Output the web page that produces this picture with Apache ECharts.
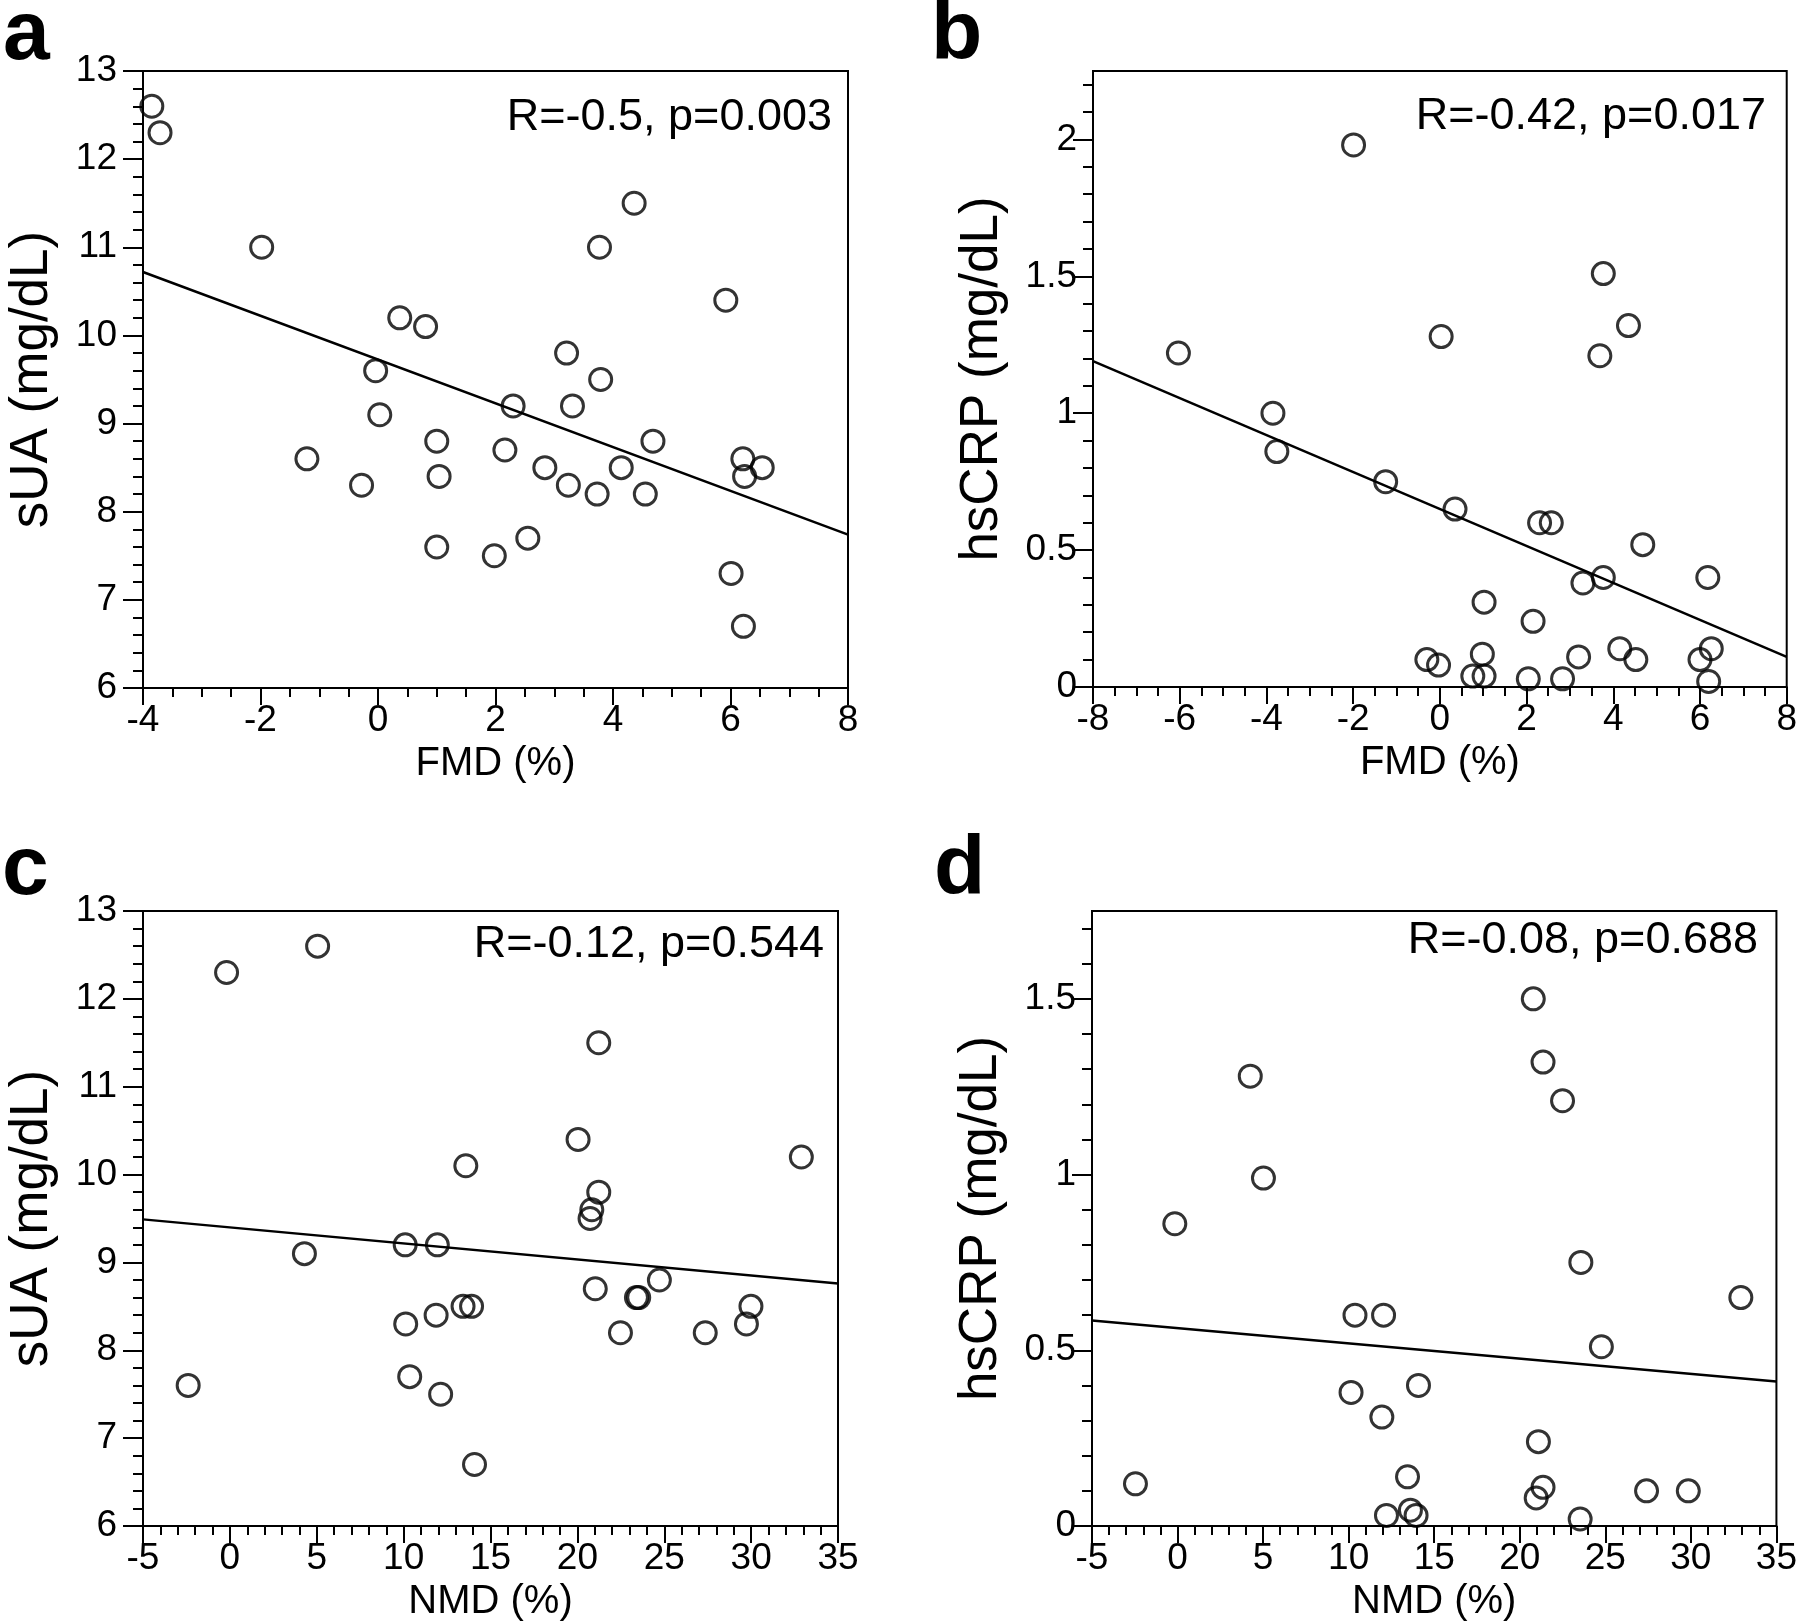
<!DOCTYPE html>
<html><head><meta charset="utf-8">
<script src="https://cdn.jsdelivr.net/npm/echarts@6/dist/echarts.min.js"></script>
<style>html,body{margin:0;padding:0;background:#fff}#c{width:1800px;height:1623px}</style>
</head><body><div id="c"></div>
<script>
// ---------- data ----------
// Panel a: FMD (%) vs sUA (mg/dL)
const aFMD = [-3.85, -3.71, -1.98, 4.36, 3.77, 5.92, 0.37, 0.81, 3.21, -0.04, 3.79, 2.30, 3.31, 0.03, 1.00, 4.68, 2.16, -1.21, 6.21, 2.84, 4.14, 6.54, 1.04, 6.24, -0.28, 3.24, 3.73, 4.55, 2.55, 1.00, 1.98, 6.01, 6.22];
const aSUA = [12.6, 12.3, 11.0, 11.5, 11.0, 10.4, 10.2, 10.1, 9.8, 9.6, 9.5, 9.2, 9.2, 9.1, 8.8, 8.8, 8.7, 8.6, 8.6, 8.5, 8.5, 8.5, 8.4, 8.4, 8.3, 8.3, 8.2, 8.2, 7.7, 7.6, 7.5, 7.3, 6.7];
const aLineX = [-4, 8];
const aLineY = [10.72, 7.74];

// Panel b: FMD (%) vs hsCRP (mg/dL)
const bFMD = [-1.99, 3.77, 4.35, 0.03, -6.03, 3.69, -3.85, -3.76, -1.25, 0.35, 2.30, 2.57, 4.68, 6.18, 3.77, 3.30, 1.02, 2.15, 4.15, 6.26, 0.98, 3.20, -0.30, -0.03, 4.52, 6.00, 0.76, 1.02, 2.04, 2.83, 6.20];
const bCRP = [1.98, 1.51, 1.32, 1.28, 1.22, 1.21, 1.00, 0.86, 0.75, 0.65, 0.60, 0.60, 0.52, 0.40, 0.40, 0.38, 0.31, 0.24, 0.14, 0.14, 0.12, 0.11, 0.10, 0.08, 0.10, 0.10, 0.04, 0.04, 0.03, 0.03, 0.02];
const bLineX = [-8, 8];
const bLineY = [1.19, 0.11];

// Panel c: NMD (%) vs sUA (mg/dL)
const cNMD = [5.05, -0.19, 21.23, 20.04, 32.89, 13.58, 21.23, 20.83, 20.73, 10.09, 11.94, 4.29, 24.72, 21.03, 23.40, 23.53, 13.42, 13.91, 29.99, 11.87, 10.12, 29.73, 22.48, 27.36, 10.35, -2.40, 12.13, 14.08];
const cSUA = [12.6, 12.3, 11.5, 10.4, 10.2, 10.1, 9.8, 9.6, 9.5, 9.2, 9.2, 9.1, 8.8, 8.7, 8.6, 8.6, 8.5, 8.5, 8.5, 8.4, 8.3, 8.3, 8.2, 8.2, 7.7, 7.6, 7.5, 6.7];
const cLineX = [-5, 35];
const cLineY = [9.49, 8.76];

// Panel d: NMD (%) vs hsCRP (mg/dL)
const dNMD = [20.79, 21.36, 4.25, 22.50, 5.02, -0.16, 23.57, 32.92, 10.37, 12.04, 24.77, 14.08, 10.14, 11.94, 21.09, 13.44, -2.46, 21.36, 27.41, 29.85, 20.96, 13.61, 12.21, 13.94, 23.53];
const dCRP = [1.50, 1.32, 1.28, 1.21, 0.99, 0.86, 0.75, 0.65, 0.60, 0.60, 0.51, 0.40, 0.38, 0.31, 0.24, 0.14, 0.12, 0.11, 0.10, 0.10, 0.08, 0.045, 0.03, 0.03, 0.02];
const dLineX = [-5, 35];
const dLineY = [0.585, 0.411];

// tick labels
const fmdTicksA = [-4, -2, 0, 2, 4, 6, 8];
const fmdTicksB = [-8, -6, -4, -2, 0, 2, 4, 6, 8];
const nmdTicks = [-5, 0, 5, 10, 15, 20, 25, 30, 35];
const suaTicks = [6, 7, 8, 9, 10, 11, 12, 13];
const crpTicksB = [0, 0.5, 1, 1.5, 2];
const crpTicksD = [0, 0.5, 1, 1.5];

const statA = 'R=-0.5, p=0.003';
const statB = 'R=-0.42, p=0.017';
const statC = 'R=-0.12, p=0.544';
const statD = 'R=-0.08, p=0.688';

// ---------- helpers ----------
const FONT = '"Liberation Sans", Arial, Helvetica, sans-serif';
function zip(xs, ys) { return xs.map((x, i) => [x, ys[i]]); }
function steps(min, max, step) {
  const out = []; const n = Math.round((max - min) / step);
  for (let i = 0; i <= n; i++) out.push(+(min + i * step).toFixed(4));
  return out;
}
function minorOnly(min, max, step, majors) {
  return steps(min, max, step).filter(v => !majors.some(m => Math.abs(m - v) < 1e-6));
}

const panels = [
  { grid: {left: 143, top: 71, width: 705, height: 617},
    x: {min: -4, max: 8, major: fmdTicksA, minor: minorOnly(-4, 8, 0.5, fmdTicksA), name: 'FMD (%)'},
    y: {min: 6, max: 13, major: suaTicks, minor: minorOnly(6, 13, 0.2, suaTicks), name: 'sUA (mg/dL)', margin: 26, gap: 84},
    pts: zip(aFMD, aSUA), line: zip(aLineX, aLineY),
    stat: {text: statA, right: 832, cy: 118}, letter: {t: 'a', x: 3, cy: 36} },
  { grid: {left: 1093, top: 71, width: 696, height: 616},
    x: {min: -8, max: 8, major: fmdTicksB, minor: minorOnly(-8, 8, 0.5, fmdTicksB), name: 'FMD (%)'},
    y: {min: 0, max: 2.25, major: crpTicksB, minor: minorOnly(0, 2.2, 0.1, crpTicksB), name: 'hsCRP (mg/dL)', margin: 16, gap: 84},
    pts: zip(bFMD, bCRP), line: zip(bLineX, bLineY),
    stat: {text: statB, right: 1766, cy: 117}, letter: {t: 'b', x: 931, cy: 36} },
  { grid: {left: 143, top: 911, width: 695, height: 616},
    x: {min: -5, max: 35, major: nmdTicks, minor: minorOnly(-5, 35, 1, nmdTicks), name: 'NMD (%)'},
    y: {min: 6, max: 13, major: suaTicks, minor: minorOnly(6, 13, 0.2, suaTicks), name: 'sUA (mg/dL)', margin: 26, gap: 84},
    pts: zip(cNMD, cSUA), line: zip(cLineX, cLineY),
    stat: {text: statC, right: 824, cy: 945}, letter: {t: 'c', x: 2, cy: 871} },
  { grid: {left: 1092, top: 911, width: 688, height: 615},
    x: {min: -5, max: 35, major: nmdTicks, minor: minorOnly(-5, 35, 1, nmdTicks), name: 'NMD (%)'},
    y: {min: 0, max: 1.75, major: crpTicksD, minor: minorOnly(0, 1.7, 0.1, crpTicksD), name: 'hsCRP (mg/dL)', margin: 16, gap: 84},
    pts: zip(dNMD, dCRP), line: zip(dLineX, dLineY),
    stat: {text: statD, right: 1758, cy: 941}, letter: {t: 'd', x: 934, cy: 871} }
];

const LW = 2;
const TICK_FS = 37;
const grid = [], xAxis = [], yAxis = [], series = [], graphic = [];
panels.forEach((p, i) => {
  grid.push(Object.assign({show: true, borderColor: '#000', borderWidth: LW, backgroundColor: 'transparent'}, p.grid));
  xAxis.push({
    type: 'value', gridIndex: i, min: p.x.min, max: p.x.max, position: 'bottom',
    axisLine: {show: true, onZero: false, lineStyle: {color: '#000', width: LW}},
    axisTick: {show: true, length: 17, customValues: p.x.major, lineStyle: {color: '#000', width: LW}},
    axisLabel: {show: true, customValues: p.x.major, fontSize: TICK_FS, color: '#000', fontFamily: FONT, margin: 14},
    splitLine: {show: false},
    name: p.x.name, nameLocation: 'middle', nameGap: 56,
    nameTextStyle: {fontSize: 40, color: '#000', fontFamily: FONT}
  });
  xAxis.push({
    type: 'value', gridIndex: i, min: p.x.min, max: p.x.max, position: 'bottom',
    axisLine: {show: false, onZero: false},
    axisTick: {show: true, length: 9, customValues: p.x.minor, lineStyle: {color: '#000', width: LW}},
    axisLabel: {show: false}, splitLine: {show: false}
  });
  yAxis.push({
    type: 'value', gridIndex: i, min: p.y.min, max: p.y.max, position: 'left',
    axisLine: {show: true, onZero: false, lineStyle: {color: '#000', width: LW}},
    axisTick: {show: true, length: 20, customValues: p.y.major, lineStyle: {color: '#000', width: LW}},
    axisLabel: {show: true, customValues: p.y.major, fontSize: TICK_FS, color: '#000', fontFamily: FONT, margin: p.y.margin},
    splitLine: {show: false},
    name: p.y.name, nameLocation: 'middle', nameGap: p.y.gap,
    nameTextStyle: {fontSize: 53, color: '#000', fontFamily: FONT}
  });
  yAxis.push({
    type: 'value', gridIndex: i, min: p.y.min, max: p.y.max, position: 'left',
    axisLine: {show: false, onZero: false},
    axisTick: {show: true, length: 10, customValues: p.y.minor, lineStyle: {color: '#000', width: LW}},
    axisLabel: {show: false}, splitLine: {show: false}
  });
  series.push({
    type: 'line', xAxisIndex: 2 * i, yAxisIndex: 2 * i, data: p.line,
    showSymbol: false, symbol: 'none', lineStyle: {color: '#000', width: 2.5}, silent: true, z: 2
  });
  series.push({
    type: 'scatter', xAxisIndex: 2 * i, yAxisIndex: 2 * i, data: p.pts,
    symbol: 'circle', symbolSize: 22,
    itemStyle: {color: 'rgba(255,255,255,0)', borderColor: '#000', borderWidth: 3},
    emphasis: {disabled: true}, silent: true, z: 3
  });
  graphic.push({
    type: 'text', x: p.stat.right, y: p.stat.cy, silent: true,
    style: {text: p.stat.text, fill: '#000', font: '45px ' + FONT, align: 'right', verticalAlign: 'middle', textAlign: 'right', textVerticalAlign: 'middle'}
  });
  graphic.push({
    type: 'text', x: p.letter.x, y: p.letter.cy, silent: true,
    style: {text: p.letter.t, fill: '#000', font: 'bold 84px ' + FONT, align: 'left', verticalAlign: 'middle', textAlign: 'left', textVerticalAlign: 'middle'}
  });
});

const chart = echarts.init(document.getElementById('c'), null, {renderer: 'canvas'});
chart.setOption({
  backgroundColor: '#fff',
  animation: false,
  textStyle: {fontFamily: FONT},
  grid, xAxis, yAxis, series, graphic
});
</script></body></html>
